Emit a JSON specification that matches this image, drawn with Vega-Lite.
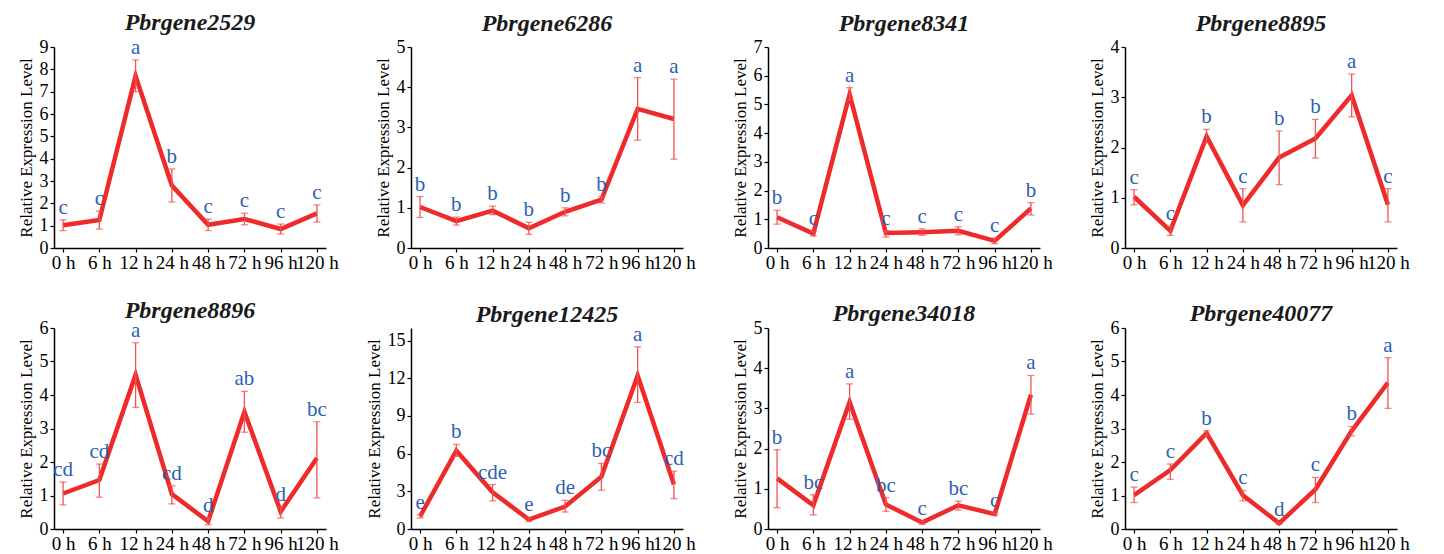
{
  "$schema": "https://vega.github.io/schema/vega-lite/v6.json",
  "padding": {"left": 17, "top": 10, "right": 5, "bottom": 0},
  "background": "white",
  "data": {"values": [
    {"gene": "Pbrgene2529", "time": "0 h", "mean": 1.02, "lo": 0.78, "hi": 1.26, "letter": "c"},
    {"gene": "Pbrgene2529", "time": "6 h", "mean": 1.25, "lo": 0.85, "hi": 1.65, "letter": "c"},
    {"gene": "Pbrgene2529", "time": "12 h", "mean": 7.7, "lo": 7.0, "hi": 8.42, "letter": "a"},
    {"gene": "Pbrgene2529", "time": "24 h", "mean": 2.8, "lo": 2.06, "hi": 3.54, "letter": "b"},
    {"gene": "Pbrgene2529", "time": "48 h", "mean": 1.04, "lo": 0.78, "hi": 1.3, "letter": "c"},
    {"gene": "Pbrgene2529", "time": "72 h", "mean": 1.3, "lo": 1.04, "hi": 1.56, "letter": "c"},
    {"gene": "Pbrgene2529", "time": "96 h", "mean": 0.85, "lo": 0.63, "hi": 1.07, "letter": "c"},
    {"gene": "Pbrgene2529", "time": "120 h", "mean": 1.55, "lo": 1.16, "hi": 1.93, "letter": "c"},
    {"gene": "Pbrgene6286", "time": "0 h", "mean": 1.02, "lo": 0.76, "hi": 1.28, "letter": "b"},
    {"gene": "Pbrgene6286", "time": "6 h", "mean": 0.67, "lo": 0.57, "hi": 0.77, "letter": "b"},
    {"gene": "Pbrgene6286", "time": "12 h", "mean": 0.93, "lo": 0.83, "hi": 1.04, "letter": "b"},
    {"gene": "Pbrgene6286", "time": "24 h", "mean": 0.49, "lo": 0.34, "hi": 0.64, "letter": "b"},
    {"gene": "Pbrgene6286", "time": "48 h", "mean": 0.9, "lo": 0.8, "hi": 1.0, "letter": "b"},
    {"gene": "Pbrgene6286", "time": "72 h", "mean": 1.2, "lo": 1.12, "hi": 1.28, "letter": "b"},
    {"gene": "Pbrgene6286", "time": "96 h", "mean": 3.46, "lo": 2.68, "hi": 4.24, "letter": "a"},
    {"gene": "Pbrgene6286", "time": "120 h", "mean": 3.21, "lo": 2.21, "hi": 4.2, "letter": "a"},
    {"gene": "Pbrgene8341", "time": "0 h", "mean": 1.07, "lo": 0.83, "hi": 1.31, "letter": "b"},
    {"gene": "Pbrgene8341", "time": "6 h", "mean": 0.5, "lo": 0.42, "hi": 0.58, "letter": "c"},
    {"gene": "Pbrgene8341", "time": "12 h", "mean": 5.35, "lo": 5.15, "hi": 5.58, "letter": "a"},
    {"gene": "Pbrgene8341", "time": "24 h", "mean": 0.52, "lo": 0.38, "hi": 0.6, "letter": "c"},
    {"gene": "Pbrgene8341", "time": "48 h", "mean": 0.55, "lo": 0.44, "hi": 0.67, "letter": "c"},
    {"gene": "Pbrgene8341", "time": "72 h", "mean": 0.6, "lo": 0.46, "hi": 0.74, "letter": "c"},
    {"gene": "Pbrgene8341", "time": "96 h", "mean": 0.25, "lo": 0.15, "hi": 0.35, "letter": "c"},
    {"gene": "Pbrgene8341", "time": "120 h", "mean": 1.38, "lo": 1.15, "hi": 1.58, "letter": "b"},
    {"gene": "Pbrgene8895", "time": "0 h", "mean": 1.02, "lo": 0.86, "hi": 1.16, "letter": "c"},
    {"gene": "Pbrgene8895", "time": "6 h", "mean": 0.34, "lo": 0.25, "hi": 0.43, "letter": "c"},
    {"gene": "Pbrgene8895", "time": "12 h", "mean": 2.22, "lo": 2.1, "hi": 2.36, "letter": "b"},
    {"gene": "Pbrgene8895", "time": "24 h", "mean": 0.85, "lo": 0.52, "hi": 1.18, "letter": "c"},
    {"gene": "Pbrgene8895", "time": "48 h", "mean": 1.8, "lo": 1.26, "hi": 2.33, "letter": "b"},
    {"gene": "Pbrgene8895", "time": "72 h", "mean": 2.18, "lo": 1.79, "hi": 2.56, "letter": "b"},
    {"gene": "Pbrgene8895", "time": "96 h", "mean": 3.04, "lo": 2.61, "hi": 3.46, "letter": "a"},
    {"gene": "Pbrgene8895", "time": "120 h", "mean": 0.86, "lo": 0.52, "hi": 1.18, "letter": "c"},
    {"gene": "Pbrgene8896", "time": "0 h", "mean": 1.06, "lo": 0.72, "hi": 1.4, "letter": "cd"},
    {"gene": "Pbrgene8896", "time": "6 h", "mean": 1.46, "lo": 0.95, "hi": 1.94, "letter": "cd"},
    {"gene": "Pbrgene8896", "time": "12 h", "mean": 4.6, "lo": 3.63, "hi": 5.56, "letter": "a"},
    {"gene": "Pbrgene8896", "time": "24 h", "mean": 1.04, "lo": 0.75, "hi": 1.29, "letter": "cd"},
    {"gene": "Pbrgene8896", "time": "48 h", "mean": 0.23, "lo": 0.13, "hi": 0.33, "letter": "d"},
    {"gene": "Pbrgene8896", "time": "72 h", "mean": 3.5, "lo": 2.89, "hi": 4.11, "letter": "ab"},
    {"gene": "Pbrgene8896", "time": "96 h", "mean": 0.52, "lo": 0.33, "hi": 0.65, "letter": "d"},
    {"gene": "Pbrgene8896", "time": "120 h", "mean": 2.12, "lo": 0.93, "hi": 3.2, "letter": "bc"},
    {"gene": "Pbrgene12425", "time": "0 h", "mean": 1.0, "lo": 0.88, "hi": 1.12, "letter": "e"},
    {"gene": "Pbrgene12425", "time": "6 h", "mean": 6.23, "lo": 5.78, "hi": 6.73, "letter": "b"},
    {"gene": "Pbrgene12425", "time": "12 h", "mean": 2.92, "lo": 2.24, "hi": 3.54, "letter": "cde"},
    {"gene": "Pbrgene12425", "time": "24 h", "mean": 0.75, "lo": 0.6, "hi": 0.92, "letter": "e"},
    {"gene": "Pbrgene12425", "time": "48 h", "mean": 1.79, "lo": 1.35, "hi": 2.29, "letter": "de"},
    {"gene": "Pbrgene12425", "time": "72 h", "mean": 4.16, "lo": 3.09, "hi": 5.23, "letter": "bc"},
    {"gene": "Pbrgene12425", "time": "96 h", "mean": 12.21, "lo": 10.07, "hi": 14.5, "letter": "a"},
    {"gene": "Pbrgene12425", "time": "120 h", "mean": 3.54, "lo": 2.42, "hi": 4.61, "letter": "cd"},
    {"gene": "Pbrgene34018", "time": "0 h", "mean": 1.26, "lo": 0.53, "hi": 1.97, "letter": "b"},
    {"gene": "Pbrgene34018", "time": "6 h", "mean": 0.59, "lo": 0.35, "hi": 0.85, "letter": "bc"},
    {"gene": "Pbrgene34018", "time": "12 h", "mean": 3.16, "lo": 2.73, "hi": 3.61, "letter": "a"},
    {"gene": "Pbrgene34018", "time": "24 h", "mean": 0.61, "lo": 0.44, "hi": 0.78, "letter": "bc"},
    {"gene": "Pbrgene34018", "time": "48 h", "mean": 0.16, "lo": 0.12, "hi": 0.2, "letter": "c"},
    {"gene": "Pbrgene34018", "time": "72 h", "mean": 0.59, "lo": 0.47, "hi": 0.69, "letter": "bc"},
    {"gene": "Pbrgene34018", "time": "96 h", "mean": 0.37, "lo": 0.34, "hi": 0.4, "letter": "c"},
    {"gene": "Pbrgene34018", "time": "120 h", "mean": 3.34, "lo": 2.86, "hi": 3.82, "letter": "a"},
    {"gene": "Pbrgene40077", "time": "0 h", "mean": 1.01, "lo": 0.79, "hi": 1.25, "letter": "c"},
    {"gene": "Pbrgene40077", "time": "6 h", "mean": 1.76, "lo": 1.48, "hi": 1.94, "letter": "c"},
    {"gene": "Pbrgene40077", "time": "12 h", "mean": 2.86, "lo": 2.78, "hi": 2.93, "letter": "b"},
    {"gene": "Pbrgene40077", "time": "24 h", "mean": 1.01, "lo": 0.84, "hi": 1.15, "letter": "c"},
    {"gene": "Pbrgene40077", "time": "48 h", "mean": 0.17, "lo": 0.14, "hi": 0.2, "letter": "d"},
    {"gene": "Pbrgene40077", "time": "72 h", "mean": 1.18, "lo": 0.79, "hi": 1.54, "letter": "c"},
    {"gene": "Pbrgene40077", "time": "96 h", "mean": 2.93, "lo": 2.78, "hi": 3.06, "letter": "b"},
    {"gene": "Pbrgene40077", "time": "120 h", "mean": 4.37, "lo": 3.6, "hi": 5.11, "letter": "a"}
  ]},
  "columns": 4,
  "bounds": "flush",
  "spacing": {"row": 80, "column": 85},
  "concat": [
      {"width": 272, "height": 201, "title": {"text": "Pbrgene2529", "offset": 2}, "transform": [{"filter": {"field": "gene", "equal": "Pbrgene2529"}}],
       "encoding": {"x": {"field": "time", "type": "ordinal", "sort": ["0 h","6 h","12 h","24 h","48 h","72 h","96 h","120 h"], "scale": {"type": "point", "padding": 0.25}, "axis": {"title": null}}},
       "layer": [
         {"mark": {"type": "line", "color": "#ee2a2a", "strokeWidth": 4.5}, "encoding": {"y": {"field": "mean", "type": "quantitative", "title": "Relative Expression Level", "scale": {"domain": [0, 9]}, "axis": {"values": [0,1,2,3,4,5,6,7,8,9], "format": "d"}}}},
         {"mark": {"type": "errorbar", "color": "#f05252", "thickness": 1.3, "ticks": {"size": 7}}, "encoding": {"y": {"field": "lo", "type": "quantitative", "title": "Relative Expression Level", "axis": {"values": [0,1,2,3,4,5,6,7,8,9], "format": "d"}}, "y2": {"field": "hi"}}},
         {"mark": {"type": "text", "baseline": "bottom", "dy": -2, "fontSize": 21, "font": "Liberation Serif", "color": "#2d5fb4"}, "encoding": {"y": {"field": "hi", "type": "quantitative", "title": "Relative Expression Level", "axis": {"values": [0,1,2,3,4,5,6,7,8,9], "format": "d"}}, "text": {"field": "letter"}}}
       ]},
      {"width": 272, "height": 201, "title": {"text": "Pbrgene6286", "offset": 2}, "transform": [{"filter": {"field": "gene", "equal": "Pbrgene6286"}}],
       "encoding": {"x": {"field": "time", "type": "ordinal", "sort": ["0 h","6 h","12 h","24 h","48 h","72 h","96 h","120 h"], "scale": {"type": "point", "padding": 0.25}, "axis": {"title": null}}},
       "layer": [
         {"mark": {"type": "line", "color": "#ee2a2a", "strokeWidth": 4.5}, "encoding": {"y": {"field": "mean", "type": "quantitative", "title": "Relative Expression Level", "scale": {"domain": [0, 5]}, "axis": {"values": [0,1,2,3,4,5], "format": "d"}}}},
         {"mark": {"type": "errorbar", "color": "#f05252", "thickness": 1.3, "ticks": {"size": 7}}, "encoding": {"y": {"field": "lo", "type": "quantitative", "title": "Relative Expression Level", "axis": {"values": [0,1,2,3,4,5], "format": "d"}}, "y2": {"field": "hi"}}},
         {"mark": {"type": "text", "baseline": "bottom", "dy": -2, "fontSize": 21, "font": "Liberation Serif", "color": "#2d5fb4"}, "encoding": {"y": {"field": "hi", "type": "quantitative", "title": "Relative Expression Level", "axis": {"values": [0,1,2,3,4,5], "format": "d"}}, "text": {"field": "letter"}}}
       ]},
      {"width": 272, "height": 201, "title": {"text": "Pbrgene8341", "offset": 2}, "transform": [{"filter": {"field": "gene", "equal": "Pbrgene8341"}}],
       "encoding": {"x": {"field": "time", "type": "ordinal", "sort": ["0 h","6 h","12 h","24 h","48 h","72 h","96 h","120 h"], "scale": {"type": "point", "padding": 0.25}, "axis": {"title": null}}},
       "layer": [
         {"mark": {"type": "line", "color": "#ee2a2a", "strokeWidth": 4.5}, "encoding": {"y": {"field": "mean", "type": "quantitative", "title": "Relative Expression Level", "scale": {"domain": [0, 7]}, "axis": {"values": [0,1,2,3,4,5,6,7], "format": "d"}}}},
         {"mark": {"type": "errorbar", "color": "#f05252", "thickness": 1.3, "ticks": {"size": 7}}, "encoding": {"y": {"field": "lo", "type": "quantitative", "title": "Relative Expression Level", "axis": {"values": [0,1,2,3,4,5,6,7], "format": "d"}}, "y2": {"field": "hi"}}},
         {"mark": {"type": "text", "baseline": "bottom", "dy": -2, "fontSize": 21, "font": "Liberation Serif", "color": "#2d5fb4"}, "encoding": {"y": {"field": "hi", "type": "quantitative", "title": "Relative Expression Level", "axis": {"values": [0,1,2,3,4,5,6,7], "format": "d"}}, "text": {"field": "letter"}}}
       ]},
      {"width": 272, "height": 201, "title": {"text": "Pbrgene8895", "offset": 2}, "transform": [{"filter": {"field": "gene", "equal": "Pbrgene8895"}}],
       "encoding": {"x": {"field": "time", "type": "ordinal", "sort": ["0 h","6 h","12 h","24 h","48 h","72 h","96 h","120 h"], "scale": {"type": "point", "padding": 0.25}, "axis": {"title": null}}},
       "layer": [
         {"mark": {"type": "line", "color": "#ee2a2a", "strokeWidth": 4.5}, "encoding": {"y": {"field": "mean", "type": "quantitative", "title": "Relative Expression Level", "scale": {"domain": [0, 4]}, "axis": {"values": [0,1,2,3,4], "format": "d"}}}},
         {"mark": {"type": "errorbar", "color": "#f05252", "thickness": 1.3, "ticks": {"size": 7}}, "encoding": {"y": {"field": "lo", "type": "quantitative", "title": "Relative Expression Level", "axis": {"values": [0,1,2,3,4], "format": "d"}}, "y2": {"field": "hi"}}},
         {"mark": {"type": "text", "baseline": "bottom", "dy": -2, "fontSize": 21, "font": "Liberation Serif", "color": "#2d5fb4"}, "encoding": {"y": {"field": "hi", "type": "quantitative", "title": "Relative Expression Level", "axis": {"values": [0,1,2,3,4], "format": "d"}}, "text": {"field": "letter"}}}
       ]},
      {"width": 272, "height": 201, "title": {"text": "Pbrgene8896", "offset": -4}, "transform": [{"filter": {"field": "gene", "equal": "Pbrgene8896"}}],
       "encoding": {"x": {"field": "time", "type": "ordinal", "sort": ["0 h","6 h","12 h","24 h","48 h","72 h","96 h","120 h"], "scale": {"type": "point", "padding": 0.25}, "axis": {"title": null}}},
       "layer": [
         {"mark": {"type": "line", "color": "#ee2a2a", "strokeWidth": 4.5}, "encoding": {"y": {"field": "mean", "type": "quantitative", "title": "Relative Expression Level", "scale": {"domain": [0, 6]}, "axis": {"values": [0,1,2,3,4,5,6], "format": "d"}}}},
         {"mark": {"type": "errorbar", "color": "#f05252", "thickness": 1.3, "ticks": {"size": 7}}, "encoding": {"y": {"field": "lo", "type": "quantitative", "title": "Relative Expression Level", "axis": {"values": [0,1,2,3,4,5,6], "format": "d"}}, "y2": {"field": "hi"}}},
         {"mark": {"type": "text", "baseline": "bottom", "dy": -2, "fontSize": 21, "font": "Liberation Serif", "color": "#2d5fb4"}, "encoding": {"y": {"field": "hi", "type": "quantitative", "title": "Relative Expression Level", "axis": {"values": [0,1,2,3,4,5,6], "format": "d"}}, "text": {"field": "letter"}}}
       ]},
      {"width": 272, "height": 201, "title": {"text": "Pbrgene12425", "offset": -3}, "transform": [{"filter": {"field": "gene", "equal": "Pbrgene12425"}}],
       "encoding": {"x": {"field": "time", "type": "ordinal", "sort": ["0 h","6 h","12 h","24 h","48 h","72 h","96 h","120 h"], "scale": {"type": "point", "padding": 0.25}, "axis": {"title": null}}},
       "layer": [
         {"mark": {"type": "line", "color": "#ee2a2a", "strokeWidth": 4.5}, "encoding": {"y": {"field": "mean", "type": "quantitative", "title": "Relative Expression Level", "scale": {"domain": [0, 15]}, "axis": {"values": [0,3,6,9,12,15], "format": "d"}}}},
         {"mark": {"type": "errorbar", "color": "#f05252", "thickness": 1.3, "ticks": {"size": 7}}, "encoding": {"y": {"field": "lo", "type": "quantitative", "title": "Relative Expression Level", "axis": {"values": [0,3,6,9,12,15], "format": "d"}}, "y2": {"field": "hi"}}},
         {"mark": {"type": "text", "baseline": "bottom", "dy": -2, "fontSize": 21, "font": "Liberation Serif", "color": "#2d5fb4"}, "encoding": {"y": {"field": "hi", "type": "quantitative", "title": "Relative Expression Level", "axis": {"values": [0,3,6,9,12,15], "format": "d"}}, "text": {"field": "letter"}}}
       ]},
      {"width": 272, "height": 201, "title": {"text": "Pbrgene34018", "offset": -7}, "transform": [{"filter": {"field": "gene", "equal": "Pbrgene34018"}}],
       "encoding": {"x": {"field": "time", "type": "ordinal", "sort": ["0 h","6 h","12 h","24 h","48 h","72 h","96 h","120 h"], "scale": {"type": "point", "padding": 0.25}, "axis": {"title": null}}},
       "layer": [
         {"mark": {"type": "line", "color": "#ee2a2a", "strokeWidth": 4.5}, "encoding": {"y": {"field": "mean", "type": "quantitative", "title": "Relative Expression Level", "scale": {"domain": [0, 5]}, "axis": {"values": [0,1,2,3,4,5], "format": "d"}}}},
         {"mark": {"type": "errorbar", "color": "#f05252", "thickness": 1.3, "ticks": {"size": 7}}, "encoding": {"y": {"field": "lo", "type": "quantitative", "title": "Relative Expression Level", "axis": {"values": [0,1,2,3,4,5], "format": "d"}}, "y2": {"field": "hi"}}},
         {"mark": {"type": "text", "baseline": "bottom", "dy": -2, "fontSize": 21, "font": "Liberation Serif", "color": "#2d5fb4"}, "encoding": {"y": {"field": "hi", "type": "quantitative", "title": "Relative Expression Level", "axis": {"values": [0,1,2,3,4,5], "format": "d"}}, "text": {"field": "letter"}}}
       ]},
      {"width": 272, "height": 201, "title": {"text": "Pbrgene40077", "offset": -7}, "transform": [{"filter": {"field": "gene", "equal": "Pbrgene40077"}}],
       "encoding": {"x": {"field": "time", "type": "ordinal", "sort": ["0 h","6 h","12 h","24 h","48 h","72 h","96 h","120 h"], "scale": {"type": "point", "padding": 0.25}, "axis": {"title": null}}},
       "layer": [
         {"mark": {"type": "line", "color": "#ee2a2a", "strokeWidth": 4.5}, "encoding": {"y": {"field": "mean", "type": "quantitative", "title": "Relative Expression Level", "scale": {"domain": [0, 6]}, "axis": {"values": [0,1,2,3,4,5,6], "format": "d"}}}},
         {"mark": {"type": "errorbar", "color": "#f05252", "thickness": 1.3, "ticks": {"size": 7}}, "encoding": {"y": {"field": "lo", "type": "quantitative", "title": "Relative Expression Level", "axis": {"values": [0,1,2,3,4,5,6], "format": "d"}}, "y2": {"field": "hi"}}},
         {"mark": {"type": "text", "baseline": "bottom", "dy": -2, "fontSize": 21, "font": "Liberation Serif", "color": "#2d5fb4"}, "encoding": {"y": {"field": "hi", "type": "quantitative", "title": "Relative Expression Level", "axis": {"values": [0,1,2,3,4,5,6], "format": "d"}}, "text": {"field": "letter"}}}
       ]}
  ],
  "config": {
    "view": {"stroke": null},
    "axis": {"grid": false, "domainColor": "#000000", "domainWidth": 1.5, "tickColor": "#000000", "tickWidth": 1.2, "tickSize": 4, "labelColor": "#000000", "labelFont": "Liberation Serif", "titleFont": "Liberation Serif", "titleFontWeight": "normal", "titleColor": "#000000", "labelOverlap": false},
    "axisX": {"labelFontSize": 19, "labelPadding": 1, "labelAngle": 0, "labelBound": false, "labelFlush": false, "labelOverlap": false, "labelFont": "Liberation Serif"},
    "axisY": {"labelFontSize": 18, "titleFontSize": 17, "titlePadding": 4, "labelPadding": 2, "labelOverlap": false, "labelFont": "Liberation Serif", "titleFont": "Liberation Serif"},
    "title": {"font": "Liberation Serif", "fontSize": 24, "fontStyle": "italic", "fontWeight": "bold", "color": "#1a1a1a", "offset": 8, "frame": "group", "anchor": "middle"}
  }
}
